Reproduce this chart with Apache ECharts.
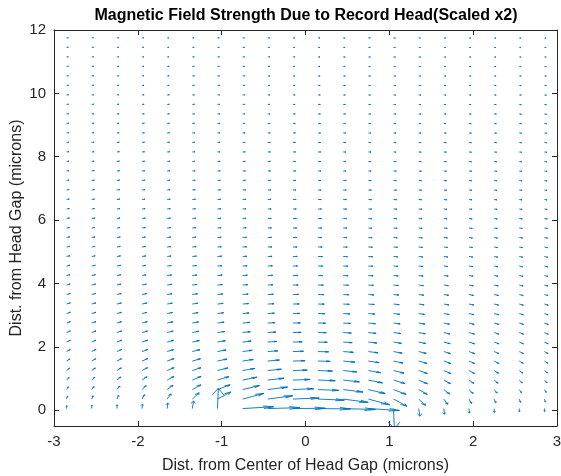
<!DOCTYPE html>
<html>
<head>
<meta charset="utf-8">
<script src="https://cdn.jsdelivr.net/npm/echarts@6/dist/echarts.min.js"></script>
<style>
  html, body { margin: 0; padding: 0; background: #fff; }
  #main { width: 561px; height: 476px; }
</style>
</head>
<body>
<div id="main"></div>
<script>
// grid of arrow tails (microns)
const xs = [-2.85, -2.55, -2.25, -1.95, -1.65, -1.35, -1.05, -0.75, -0.45, -0.15,
            0.15, 0.45, 0.75, 1.05, 1.35, 1.65, 1.95, 2.25, 2.55, 2.85];
const ys = [0.05, 0.35, 0.65, 0.95, 1.25, 1.55, 1.85, 2.15, 2.45, 2.75,
            3.05, 3.35, 3.65, 3.95, 4.25, 4.55, 4.85, 5.15, 5.45, 5.75,
            6.05, 6.35, 6.65, 6.95, 7.25, 7.55, 7.85, 8.15, 8.45, 8.75,
            9.05, 9.35, 9.65, 9.95, 10.25, 10.55, 10.85, 11.15, 11.45, 11.75];

// arrow x components (one row per y, one column per x), as drawn (scaled x2)
const uRows = [
  [0.002,0.002,0.003,0.005,0.007,0.015,0.010,0.371,0.384,0.387,0.387,0.384,0.371,0.010,0.015,0.007,0.005,0.003,0.002,0.002],
  [0.012,0.016,0.021,0.030,0.046,0.081,0.160,0.254,0.298,0.313,0.313,0.298,0.254,0.160,0.081,0.046,0.030,0.021,0.016,0.012],
  [0.022,0.028,0.036,0.049,0.069,0.103,0.151,0.201,0.236,0.249,0.249,0.236,0.201,0.151,0.103,0.069,0.049,0.036,0.028,0.022],
  [0.030,0.037,0.047,0.060,0.080,0.106,0.138,0.169,0.193,0.205,0.205,0.193,0.169,0.138,0.106,0.080,0.060,0.047,0.037,0.030],
  [0.036,0.043,0.053,0.066,0.083,0.103,0.125,0.146,0.162,0.171,0.171,0.162,0.146,0.125,0.103,0.083,0.066,0.053,0.043,0.036],
  [0.040,0.048,0.057,0.068,0.082,0.098,0.113,0.128,0.139,0.145,0.145,0.139,0.128,0.113,0.098,0.082,0.068,0.057,0.048,0.040],
  [0.043,0.050,0.058,0.068,0.079,0.091,0.103,0.114,0.121,0.126,0.126,0.121,0.114,0.103,0.091,0.079,0.068,0.058,0.050,0.043],
  [0.045,0.051,0.059,0.067,0.076,0.085,0.094,0.102,0.107,0.110,0.110,0.107,0.102,0.094,0.085,0.076,0.067,0.059,0.051,0.045],
  [0.046,0.051,0.058,0.065,0.072,0.079,0.086,0.092,0.096,0.098,0.098,0.096,0.092,0.086,0.079,0.072,0.065,0.058,0.051,0.046],
  [0.046,0.051,0.056,0.062,0.068,0.074,0.079,0.084,0.087,0.089,0.089,0.087,0.084,0.079,0.074,0.068,0.062,0.056,0.051,0.046],
  [0.045,0.050,0.055,0.059,0.064,0.069,0.073,0.077,0.079,0.081,0.081,0.079,0.077,0.073,0.069,0.064,0.059,0.055,0.050,0.045],
  [0.045,0.049,0.053,0.057,0.061,0.065,0.068,0.071,0.073,0.074,0.074,0.073,0.071,0.068,0.065,0.061,0.057,0.053,0.049,0.045],
  [0.044,0.047,0.051,0.054,0.058,0.061,0.063,0.066,0.067,0.068,0.068,0.067,0.066,0.063,0.061,0.058,0.054,0.051,0.047,0.044],
  [0.043,0.046,0.049,0.052,0.055,0.057,0.059,0.061,0.062,0.063,0.063,0.062,0.061,0.059,0.057,0.055,0.052,0.049,0.046,0.043],
  [0.041,0.044,0.047,0.049,0.052,0.054,0.056,0.057,0.058,0.059,0.059,0.058,0.057,0.056,0.054,0.052,0.049,0.047,0.044,0.041],
  [0.040,0.043,0.045,0.047,0.049,0.051,0.053,0.054,0.055,0.055,0.055,0.055,0.054,0.053,0.051,0.049,0.047,0.045,0.043,0.040],
  [0.039,0.041,0.043,0.045,0.047,0.048,0.050,0.051,0.051,0.052,0.052,0.051,0.051,0.050,0.048,0.047,0.045,0.043,0.041,0.039],
  [0.038,0.040,0.041,0.043,0.045,0.046,0.047,0.048,0.049,0.049,0.049,0.049,0.048,0.047,0.046,0.045,0.043,0.041,0.040,0.038],
  [0.037,0.038,0.040,0.041,0.043,0.044,0.045,0.045,0.046,0.046,0.046,0.046,0.045,0.045,0.044,0.043,0.041,0.040,0.038,0.037],
  [0.036,0.037,0.038,0.040,0.041,0.042,0.043,0.043,0.044,0.044,0.044,0.044,0.043,0.043,0.042,0.041,0.040,0.038,0.037,0.036],
  [0.034,0.036,0.037,0.038,0.039,0.040,0.041,0.041,0.042,0.042,0.042,0.042,0.041,0.041,0.040,0.039,0.038,0.037,0.036,0.034],
  [0.033,0.034,0.036,0.037,0.037,0.038,0.039,0.039,0.040,0.040,0.040,0.040,0.039,0.039,0.038,0.037,0.037,0.036,0.034,0.033],
  [0.032,0.033,0.034,0.035,0.036,0.037,0.037,0.038,0.038,0.038,0.038,0.038,0.038,0.037,0.037,0.036,0.035,0.034,0.033,0.032],
  [0.031,0.032,0.033,0.034,0.035,0.035,0.036,0.036,0.036,0.036,0.036,0.036,0.036,0.036,0.035,0.035,0.034,0.033,0.032,0.031],
  [0.030,0.031,0.032,0.033,0.033,0.034,0.034,0.035,0.035,0.035,0.035,0.035,0.035,0.034,0.034,0.033,0.033,0.032,0.031,0.030],
  [0.029,0.030,0.031,0.032,0.032,0.033,0.033,0.033,0.033,0.034,0.034,0.033,0.033,0.033,0.033,0.032,0.032,0.031,0.030,0.029],
  [0.029,0.029,0.030,0.030,0.031,0.031,0.032,0.032,0.032,0.032,0.032,0.032,0.032,0.032,0.031,0.031,0.030,0.030,0.029,0.029],
  [0.028,0.028,0.029,0.029,0.030,0.030,0.031,0.031,0.031,0.031,0.031,0.031,0.031,0.031,0.030,0.030,0.029,0.029,0.028,0.028],
  [0.027,0.028,0.028,0.029,0.029,0.029,0.030,0.030,0.030,0.030,0.030,0.030,0.030,0.030,0.029,0.029,0.029,0.028,0.028,0.027],
  [0.026,0.027,0.027,0.028,0.028,0.028,0.029,0.029,0.029,0.029,0.029,0.029,0.029,0.029,0.028,0.028,0.028,0.027,0.027,0.026],
  [0.026,0.026,0.026,0.027,0.027,0.027,0.028,0.028,0.028,0.028,0.028,0.028,0.028,0.028,0.027,0.027,0.027,0.026,0.026,0.026],
  [0.025,0.025,0.026,0.026,0.026,0.027,0.027,0.027,0.027,0.027,0.027,0.027,0.027,0.027,0.027,0.026,0.026,0.026,0.025,0.025],
  [0.024,0.025,0.025,0.025,0.026,0.026,0.026,0.026,0.026,0.026,0.026,0.026,0.026,0.026,0.026,0.026,0.025,0.025,0.025,0.024],
  [0.024,0.024,0.024,0.025,0.025,0.025,0.025,0.025,0.025,0.026,0.026,0.025,0.025,0.025,0.025,0.025,0.025,0.024,0.024,0.024],
  [0.023,0.023,0.024,0.024,0.024,0.024,0.025,0.025,0.025,0.025,0.025,0.025,0.025,0.025,0.024,0.024,0.024,0.024,0.023,0.023],
  [0.022,0.023,0.023,0.023,0.024,0.024,0.024,0.024,0.024,0.024,0.024,0.024,0.024,0.024,0.024,0.024,0.023,0.023,0.023,0.022],
  [0.022,0.022,0.023,0.023,0.023,0.023,0.023,0.023,0.023,0.023,0.023,0.023,0.023,0.023,0.023,0.023,0.023,0.023,0.022,0.022],
  [0.021,0.022,0.022,0.022,0.022,0.023,0.023,0.023,0.023,0.023,0.023,0.023,0.023,0.023,0.023,0.022,0.022,0.022,0.022,0.021],
  [0.021,0.021,0.021,0.022,0.022,0.022,0.022,0.022,0.022,0.022,0.022,0.022,0.022,0.022,0.022,0.022,0.022,0.021,0.021,0.021],
  [0.020,0.021,0.021,0.021,0.021,0.021,0.022,0.022,0.022,0.022,0.022,0.022,0.022,0.022,0.021,0.021,0.021,0.021,0.021,0.020]
];

// arrow y components, same layout
const vRows = [
  [0.093,0.105,0.122,0.144,0.179,0.241,0.640,0.060,0.030,0.010,-0.010,-0.030,-0.060,-0.640,-0.241,-0.179,-0.144,-0.122,-0.105,-0.093],
  [0.092,0.103,0.118,0.137,0.164,0.200,0.226,0.181,0.105,0.034,-0.034,-0.105,-0.181,-0.226,-0.200,-0.164,-0.137,-0.118,-0.103,-0.092],
  [0.088,0.097,0.109,0.123,0.139,0.152,0.152,0.126,0.079,0.027,-0.027,-0.079,-0.126,-0.152,-0.152,-0.139,-0.123,-0.109,-0.097,-0.088],
  [0.082,0.090,0.098,0.106,0.114,0.117,0.110,0.090,0.058,0.020,-0.020,-0.058,-0.090,-0.110,-0.117,-0.114,-0.106,-0.098,-0.090,-0.082],
  [0.076,0.081,0.086,0.091,0.093,0.091,0.083,0.067,0.043,0.015,-0.015,-0.043,-0.067,-0.083,-0.091,-0.093,-0.091,-0.086,-0.081,-0.076],
  [0.069,0.073,0.075,0.077,0.077,0.073,0.064,0.051,0.033,0.011,-0.011,-0.033,-0.051,-0.064,-0.073,-0.077,-0.077,-0.075,-0.073,-0.069],
  [0.062,0.064,0.066,0.066,0.064,0.059,0.051,0.040,0.025,0.009,-0.009,-0.025,-0.040,-0.051,-0.059,-0.064,-0.066,-0.066,-0.064,-0.062],
  [0.056,0.057,0.057,0.056,0.053,0.048,0.041,0.032,0.020,0.007,-0.007,-0.020,-0.032,-0.041,-0.048,-0.053,-0.056,-0.057,-0.057,-0.056],
  [0.051,0.051,0.050,0.048,0.045,0.040,0.034,0.026,0.016,0.005,-0.005,-0.016,-0.026,-0.034,-0.040,-0.045,-0.048,-0.050,-0.051,-0.051],
  [0.045,0.045,0.044,0.042,0.038,0.034,0.028,0.021,0.013,0.004,-0.004,-0.013,-0.021,-0.028,-0.034,-0.038,-0.042,-0.044,-0.045,-0.045],
  [0.041,0.040,0.038,0.036,0.033,0.029,0.024,0.018,0.011,0.004,-0.004,-0.011,-0.018,-0.024,-0.029,-0.033,-0.036,-0.038,-0.040,-0.041],
  [0.037,0.036,0.034,0.032,0.029,0.025,0.020,0.015,0.009,0.003,-0.003,-0.009,-0.015,-0.020,-0.025,-0.029,-0.032,-0.034,-0.036,-0.037],
  [0.033,0.032,0.030,0.028,0.025,0.022,0.017,0.013,0.008,0.003,-0.003,-0.008,-0.013,-0.017,-0.022,-0.025,-0.028,-0.030,-0.032,-0.033],
  [0.030,0.029,0.027,0.025,0.022,0.019,0.015,0.011,0.007,0.002,-0.002,-0.007,-0.011,-0.015,-0.019,-0.022,-0.025,-0.027,-0.029,-0.030],
  [0.027,0.026,0.024,0.022,0.019,0.017,0.013,0.010,0.006,0.002,-0.002,-0.006,-0.010,-0.013,-0.017,-0.019,-0.022,-0.024,-0.026,-0.027],
  [0.025,0.023,0.022,0.020,0.017,0.015,0.012,0.009,0.005,0.002,-0.002,-0.005,-0.009,-0.012,-0.015,-0.017,-0.020,-0.022,-0.023,-0.025],
  [0.023,0.021,0.020,0.018,0.016,0.013,0.011,0.008,0.005,0.002,-0.002,-0.005,-0.008,-0.011,-0.013,-0.016,-0.018,-0.020,-0.021,-0.023],
  [0.021,0.019,0.018,0.016,0.014,0.012,0.009,0.007,0.004,0.001,-0.001,-0.004,-0.007,-0.009,-0.012,-0.014,-0.016,-0.018,-0.019,-0.021],
  [0.019,0.018,0.016,0.014,0.013,0.011,0.008,0.006,0.004,0.001,-0.001,-0.004,-0.006,-0.008,-0.011,-0.013,-0.014,-0.016,-0.018,-0.019],
  [0.017,0.016,0.015,0.013,0.011,0.010,0.008,0.006,0.003,0.001,-0.001,-0.003,-0.006,-0.008,-0.010,-0.011,-0.013,-0.015,-0.016,-0.017],
  [0.016,0.015,0.014,0.012,0.010,0.009,0.007,0.005,0.003,0.001,-0.001,-0.003,-0.005,-0.007,-0.009,-0.010,-0.012,-0.014,-0.015,-0.016],
  [0.015,0.014,0.012,0.011,0.010,0.008,0.006,0.005,0.003,0.001,-0.001,-0.003,-0.005,-0.006,-0.008,-0.010,-0.011,-0.012,-0.014,-0.015],
  [0.014,0.013,0.011,0.010,0.009,0.007,0.006,0.004,0.003,0.001,-0.001,-0.003,-0.004,-0.006,-0.007,-0.009,-0.010,-0.011,-0.013,-0.014],
  [0.013,0.012,0.011,0.009,0.008,0.007,0.005,0.004,0.002,0.001,-0.001,-0.002,-0.004,-0.005,-0.007,-0.008,-0.009,-0.011,-0.012,-0.013],
  [0.012,0.011,0.010,0.009,0.008,0.006,0.005,0.004,0.002,0.001,-0.001,-0.002,-0.004,-0.005,-0.006,-0.008,-0.009,-0.010,-0.011,-0.012],
  [0.011,0.010,0.009,0.008,0.007,0.006,0.005,0.003,0.002,0.001,-0.001,-0.002,-0.003,-0.005,-0.006,-0.007,-0.008,-0.009,-0.010,-0.011],
  [0.010,0.009,0.009,0.008,0.006,0.005,0.004,0.003,0.002,0.001,-0.001,-0.002,-0.003,-0.004,-0.005,-0.006,-0.008,-0.009,-0.009,-0.010],
  [0.010,0.009,0.008,0.007,0.006,0.005,0.004,0.003,0.002,0.001,-0.001,-0.002,-0.003,-0.004,-0.005,-0.006,-0.007,-0.008,-0.009,-0.010],
  [0.009,0.008,0.007,0.007,0.006,0.005,0.004,0.003,0.002,0.001,-0.001,-0.002,-0.003,-0.004,-0.005,-0.006,-0.007,-0.007,-0.008,-0.009],
  [0.009,0.008,0.007,0.006,0.005,0.004,0.003,0.002,0.002,0.001,-0.001,-0.002,-0.002,-0.003,-0.004,-0.005,-0.006,-0.007,-0.008,-0.009],
  [0.008,0.007,0.007,0.006,0.005,0.004,0.003,0.002,0.001,0.000,0.000,-0.001,-0.002,-0.003,-0.004,-0.005,-0.006,-0.007,-0.007,-0.008],
  [0.008,0.007,0.006,0.005,0.005,0.004,0.003,0.002,0.001,0.000,0.000,-0.001,-0.002,-0.003,-0.004,-0.005,-0.005,-0.006,-0.007,-0.008],
  [0.007,0.007,0.006,0.005,0.004,0.004,0.003,0.002,0.001,0.000,0.000,-0.001,-0.002,-0.003,-0.004,-0.004,-0.005,-0.006,-0.007,-0.007],
  [0.007,0.006,0.006,0.005,0.004,0.003,0.003,0.002,0.001,0.000,0.000,-0.001,-0.002,-0.003,-0.003,-0.004,-0.005,-0.006,-0.006,-0.007],
  [0.006,0.006,0.005,0.005,0.004,0.003,0.003,0.002,0.001,0.000,0.000,-0.001,-0.002,-0.003,-0.003,-0.004,-0.005,-0.005,-0.006,-0.006],
  [0.006,0.006,0.005,0.004,0.004,0.003,0.002,0.002,0.001,0.000,0.000,-0.001,-0.002,-0.002,-0.003,-0.004,-0.004,-0.005,-0.006,-0.006],
  [0.006,0.005,0.005,0.004,0.004,0.003,0.002,0.002,0.001,0.000,0.000,-0.001,-0.002,-0.002,-0.003,-0.004,-0.004,-0.005,-0.005,-0.006],
  [0.005,0.005,0.004,0.004,0.003,0.003,0.002,0.002,0.001,0.000,0.000,-0.001,-0.002,-0.002,-0.003,-0.003,-0.004,-0.004,-0.005,-0.005],
  [0.005,0.005,0.004,0.004,0.003,0.003,0.002,0.001,0.001,0.000,0.000,-0.001,-0.001,-0.002,-0.003,-0.003,-0.004,-0.004,-0.005,-0.005],
  [0.005,0.005,0.004,0.004,0.003,0.002,0.002,0.001,0.001,0.000,0.000,-0.001,-0.001,-0.002,-0.002,-0.003,-0.004,-0.004,-0.005,-0.005]
];

const xTicks = [-3, -2, -1, 0, 1, 2, 3];
const yTicks = [0, 2, 4, 6, 8, 10, 12];

const titleText = 'Magnetic Field Strength Due to Record Head(Scaled x2)';
const xName = 'Dist. from Center of Head Gap (microns)';
const yName = 'Dist. from Head Gap (microns)';

const FONT = '"Liberation Sans", Arial, Helvetica, sans-serif';
const AXIS_COLOR = '#262626';
const ARROW_COLOR = '#0072BD';

let quiverData = [];
for (let j = 0; j < ys.length; j++) {
  for (let i = 0; i < xs.length; i++) {
    quiverData.push([xs[i], ys[j], uRows[j][i], vRows[j][i]]);
  }
}

// quiver style arrow: shaft + two barbs, head sized in data units
function renderArrow(params, api) {
  let x = api.value(0), y = api.value(1), u = api.value(2), v = api.value(3);
  let alpha = 0.33, beta = 0.33;
  let tail = api.coord([x, y]);
  let tip = api.coord([x + u, y + v]);
  let h1 = api.coord([x + u - alpha * (u + beta * v), y + v - alpha * (v - beta * u)]);
  let h2 = api.coord([x + u - alpha * (u - beta * v), y + v - alpha * (v + beta * u)]);
  let style = { stroke: ARROW_COLOR, lineWidth: 0.9, fill: null };
  return {
    type: 'group',
    children: [
      { type: 'polyline', shape: { points: [tail, tip] }, style: style },
      { type: 'polyline', shape: { points: [h1, tip, h2] }, style: style }
    ]
  };
}

function baseX(pos, show) {
  return {
    type: 'value', min: -3, max: 3, interval: 1, position: pos,
    axisLine: { show: true, onZero: false, lineStyle: { color: AXIS_COLOR, width: 1 } },
    axisTick: { show: true, inside: true, length: 5, lineStyle: { color: AXIS_COLOR } },
    axisLabel: { show: show, margin: 8, fontSize: 15, color: AXIS_COLOR, fontFamily: FONT,
                 customValues: xTicks },
    splitLine: { show: false }
  };
}

function baseY(pos, show) {
  return {
    type: 'value', min: -0.5, max: 12, position: pos,
    axisLine: { show: true, onZero: false, lineStyle: { color: AXIS_COLOR, width: 1 } },
    axisTick: { show: true, inside: true, length: 5, lineStyle: { color: AXIS_COLOR },
                customValues: yTicks },
    axisLabel: { show: show, margin: 8, fontSize: 15, color: AXIS_COLOR, fontFamily: FONT,
                 customValues: yTicks },
    splitLine: { show: false }
  };
}

let xAxisMain = baseX('bottom', true);
xAxisMain.name = xName;
xAxisMain.nameLocation = 'middle';
xAxisMain.nameGap = 32;
xAxisMain.nameMoveOverlap = false;
xAxisMain.nameTextStyle = { fontSize: 16, color: AXIS_COLOR, fontFamily: FONT };

let yAxisMain = baseY('left', true);
yAxisMain.name = yName;
yAxisMain.nameLocation = 'middle';
yAxisMain.nameGap = 29;
yAxisMain.nameMoveOverlap = false;
yAxisMain.nameTextStyle = { fontSize: 16, color: AXIS_COLOR, fontFamily: FONT };

let myChart = echarts.init(document.getElementById('main'), null, { renderer: 'canvas' });

let option = {
  backgroundColor: '#ffffff',
  animation: false,
  grid: { left: 54, right: 4, top: 30, bottom: 50, containLabel: false, outerBoundsMode: 'none' },
  graphic: [
    {
      type: 'text', x: 306, y: 8,
      style: { text: titleText, font: 'bold 16px ' + FONT, fill: '#000000',
               textAlign: 'center', textVerticalAlign: 'top' }
    }
  ],
  xAxis: [xAxisMain, baseX('top', false)],
  yAxis: [yAxisMain, baseY('right', false)],
  series: [
    {
      type: 'custom',
      xAxisIndex: 0,
      yAxisIndex: 0,
      clip: true,
      renderItem: renderArrow,
      data: quiverData,
      silent: true
    }
  ]
};

myChart.setOption(option);
</script>
</body>
</html>
